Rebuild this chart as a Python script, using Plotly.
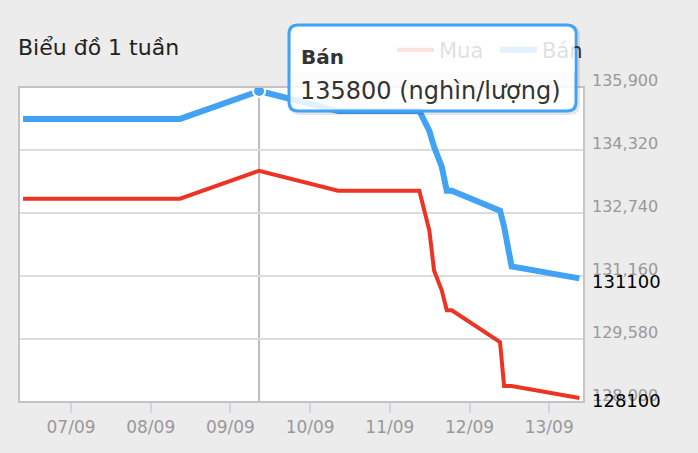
import plotly.graph_objects as go

# ---- data ----
dates = [
    "2024-09-06 09:33", "2024-09-08 08:50", "2024-09-09 08:37", "2024-09-10 08:24",
    "2024-09-11 08:53", "2024-09-11 11:54", "2024-09-11 13:19", "2024-09-11 15:38",
    "2024-09-11 17:08", "2024-09-11 18:39", "2024-09-12 09:11", "2024-09-12 10:24",
    "2024-09-12 12:40", "2024-09-13 09:04",
]
mua = [133100, 133100, 133800, 133300, 133300, 132300, 131300, 130800,
       130300, 130300, 129500, 128400, 128400, 128100]
ban = [135100, 135100, 135800, 135300, 135300, 134800, 134400, 133900,
       133300, 133300, 132800, 132400, 131400, 131100]
y_ticks = [128000, 129580, 131160, 132740, 134320, 135900]
x_ticks = ["2024-09-07", "2024-09-08", "2024-09-09", "2024-09-10",
           "2024-09-11", "2024-09-12", "2024-09-13"]
x_range = ["2024-09-06 08:20", "2024-09-13 10:28"]
title_text = "Biểu đồ 1 tuần"
unit = "(nghìn/lượng)"

RED = "#ec3324"
BLUE = "#42a2f4"
FONT = "DejaVu Sans"

peak = ban.index(max(ban))

fig = go.Figure()
fig.add_trace(go.Scatter(x=dates, y=mua, mode="lines", name="Mua",
                         line=dict(color=RED, width=4)))
fig.add_trace(go.Scatter(x=dates, y=ban, mode="lines", name="Bán",
                         line=dict(color=BLUE, width=6)))
fig.add_trace(go.Scatter(x=[dates[peak]], y=[ban[peak]], mode="markers",
                         showlegend=False,
                         marker=dict(size=12, color=BLUE,
                                     line=dict(color="white", width=2))))

# plot-area pixel geometry (for the tooltip box decoration)
L, R, T, B = 19, 584, 87, 402
def X(px):
    return (px - L) / (R - L)
def Y(py):
    return (B - py) / (B - T)
def rrect(x0, y0, x1, y1, r):
    return (f"M{X(x0+r)},{Y(y0)} L{X(x1-r)},{Y(y0)} Q{X(x1)},{Y(y0)} {X(x1)},{Y(y0+r)} "
            f"L{X(x1)},{Y(y1-r)} Q{X(x1)},{Y(y1)} {X(x1-r)},{Y(y1)} "
            f"L{X(x0+r)},{Y(y1)} Q{X(x0)},{Y(y1)} {X(x0)},{Y(y1-r)} "
            f"L{X(x0)},{Y(y0+r)} Q{X(x0)},{Y(y0)} {X(x0+r)},{Y(y0)} Z")

shapes = [
    dict(type="line", xref="x", yref="paper", x0=dates[peak], x1=dates[peak],
         y0=0, y1=1, line=dict(color="#bdbdbd", width=2), layer="below"),
    dict(type="rect", xref="paper", yref="paper", x0=0, x1=1, y0=0, y1=1,
         line=dict(color="#c4c4c4", width=2), layer="above"),
    dict(type="path", xref="paper", yref="paper", path=rrect(291, 27, 578, 113, 9),
         line=dict(color="rgba(0,0,0,0.10)", width=4), layer="above"),
    dict(type="path", xref="paper", yref="paper", path=rrect(289, 25, 576, 111, 9),
         fillcolor="rgba(255,255,255,0.85)", line=dict(color=BLUE, width=3),
         layer="above"),
]

annotations = [
    dict(xref="paper", yref="paper", x=X(292), y=Y(31), xanchor="left", yanchor="top",
         text=" ", showarrow=False, width=281, height=40, borderpad=0,
         bgcolor="rgba(255,255,255,0.85)"),
    dict(xref="paper", yref="paper", x=X(299), y=Y(57), xanchor="left", yanchor="middle",
         text="<b>Bán</b>", showarrow=False,
         font=dict(family=FONT, size=20, color="#333333")),
    dict(xref="paper", yref="paper", x=X(298), y=Y(91), xanchor="left", yanchor="middle",
         text=f"{ban[peak]} {unit}", showarrow=False,
         font=dict(family=FONT, size=24, color="#333333")),
    dict(x=dates[-1], y=ban[-1], xref="x", yref="y", xanchor="left", yanchor="middle",
         xshift=11, yshift=-3, text=str(ban[-1]), showarrow=False,
         font=dict(family=FONT, size=18, color="#000000")),
    dict(x=dates[-1], y=mua[-1], xref="x", yref="y", xanchor="left", yanchor="middle",
         xshift=11, yshift=-2, text=str(mua[-1]), showarrow=False,
         font=dict(family=FONT, size=18, color="#000000")),
]

fig.update_layout(
    width=698, height=453,
    margin=dict(l=L, r=698 - R, t=T, b=453 - B, pad=0, autoexpand=False),
    paper_bgcolor="#ececec", plot_bgcolor="#ffffff",
    font=dict(family=FONT),
    title=dict(text=title_text, x=18 / 698, xref="container", xanchor="left",
               y=1 - 47 / 453, yref="container", yanchor="middle",
               font=dict(family=FONT, size=22, color="#222222")),
    showlegend=True,
    legend=dict(orientation="h", x=X(392), xanchor="left", y=Y(50), yanchor="middle",
                bgcolor="rgba(0,0,0,0)", borderwidth=0,
                font=dict(family=FONT, size=21, color="#333333"),
                itemwidth=37, entrywidth=51, entrywidthmode="pixels"),
    hovermode=False,
    xaxis=dict(type="date", range=x_range, tickvals=x_ticks, tickformat="%d/%m",
               showgrid=False, zeroline=False, showline=False,
               ticks="outside", ticklen=10, tickwidth=2, tickcolor="#ccd6eb",
               tickfont=dict(family=FONT, size=17, color="#999999")),
    yaxis=dict(range=[y_ticks[0], y_ticks[-1]], tickvals=y_ticks, tickformat=",d",
               side="right", ticklabelposition="outside top", ticks="",
               showgrid=True, gridcolor="#dcdcdc", gridwidth=1.5,
               zeroline=False, showline=False, ticklabelstandoff=7,
               ticklabelshift=5,
               tickfont=dict(family=FONT, size=16, color="#999999")),
    shapes=shapes, annotations=annotations,
)

fig.write_html("out.html", config={"displayModeBar": False},
               post_script="document.body.style.margin='0px';")
